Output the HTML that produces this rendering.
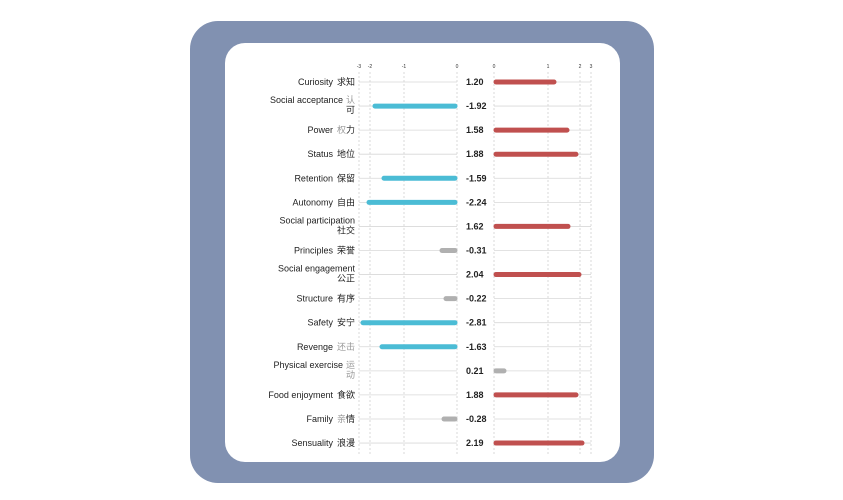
<!DOCTYPE html>
<html><head><meta charset="utf-8"><style>
html,body{margin:0;padding:0;background:#fff;}
svg{display:block;}
text{font-family:"Liberation Sans","Noto Sans CJK SC",sans-serif;}
</style></head><body>
<svg width="843" height="500" viewBox="0 0 843 500" xmlns="http://www.w3.org/2000/svg">
<rect x="190" y="21" width="464" height="462" rx="28" fill="#8191b1"/>
<rect x="225" y="43" width="395" height="419" rx="20" fill="#fff"/>
<g font-size="5" fill="#333" text-anchor="middle">
<text x="359" y="68">-3</text><text x="370" y="68">-2</text><text x="404" y="68">-1</text><text x="457" y="68">0</text>
<text x="494" y="68">0</text><text x="548" y="68">1</text><text x="580" y="68">2</text><text x="591" y="68">3</text>
</g>
<g stroke="#c8c8c8" stroke-width="0.7" stroke-dasharray="2,2">
<line x1="359" y1="72" x2="359" y2="455"/><line x1="370" y1="72" x2="370" y2="455"/><line x1="404" y1="72" x2="404" y2="455"/><line x1="457" y1="72" x2="457" y2="455"/>
<line x1="494" y1="72" x2="494" y2="455"/><line x1="548" y1="72" x2="548" y2="455"/><line x1="580" y1="72" x2="580" y2="455"/><line x1="591" y1="72" x2="591" y2="455"/>
</g>
<g id="rows" font-size="9" fill="#222"></g>
</svg>
<script>
var d=[
["Curiosity","求知",1.20,null,556,"r",0],
["Social acceptance","认|可",-1.92,373,null,"b",1],
["Power","权力",1.58,null,569,"r",0],
["Status","地位",1.88,null,578,"r",0],
["Retention","保留",-1.59,382,null,"b",0],
["Autonomy","自由",-2.24,367,null,"b",0],
["Social participation","|社交",1.62,null,570,"r",1],
["Principles","荣誉",-0.31,440,null,"g",0],
["Social engagement","|公正",2.04,null,581,"r",1],
["Structure","有序",-0.22,444,null,"g",0],
["Safety","安宁",-2.81,361,null,"b",0],
["Revenge","还击",-1.63,380,null,"b",0],
["Physical exercise","运|动",0.21,null,506,"g",1],
["Food enjoyment","食欲",1.88,null,578,"r",0],
["Family","亲情",-0.28,442,null,"g",0],
["Sensuality","浪漫",2.19,null,584,"r",0]];
var grey={"认":1,"权":1,"还":1,"击":1,"运":1,"动":1,"亲":1};
var col={r:"#c0504f",b:"#4bbcd5",g:"#b0b0b0"};
var s="";
d.forEach(function(r,i){
 var y=82+i*24.07;
 s+='<line x1="359" y1="'+y+'" x2="457" y2="'+y+'" stroke="#d8d8d8" stroke-width="0.8"/>';
 s+='<line x1="494" y1="'+y+'" x2="591" y2="'+y+'" stroke="#d8d8d8" stroke-width="0.8"/>';
 var cj=function(t){return t.split("").map(function(c){return '<tspan fill="'+(grey[c]?"#999":"#222")+'">'+c+'</tspan>';}).join("");};
 if(r[6]){
  var p=r[1].split("|");
  s+='<text x="355" y="'+(y-3)+'" text-anchor="end">'+r[0]+(p[0]?'<tspan dx="3">'+cj(p[0])+'</tspan>':'')+'</text>';
  s+='<text x="355" y="'+(y+7)+'" text-anchor="end">'+cj(p[1])+'</text>';
 } else {
  s+='<text x="355" y="'+(y+3)+'" text-anchor="end">'+r[0]+'<tspan dx="4">'+cj(r[1])+'</tspan></text>';
 }
 s+='<text x="466" y="'+(y+3)+'" font-weight="bold">'+r[2].toFixed(2)+'</text>';
 if(r[3]!==null) s+='<line x1="'+(r[3]+2)+'" y1="'+y+'" x2="455" y2="'+y+'" stroke="'+col[r[5]]+'" stroke-width="5" stroke-linecap="round"/>';
 else s+='<line x1="496" y1="'+y+'" x2="'+(r[4]-2)+'" y2="'+y+'" stroke="'+col[r[5]]+'" stroke-width="5" stroke-linecap="round"/>';
});
document.getElementById("rows").innerHTML=s;
</script>
</body></html>
